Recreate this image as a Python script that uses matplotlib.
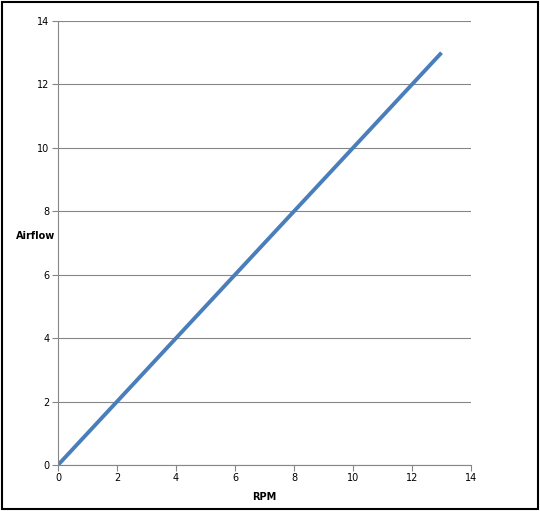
import matplotlib
matplotlib.use("Agg")
import matplotlib.pyplot as plt
from matplotlib.patches import Rectangle

rpm = [0, 1, 2, 3, 4, 5, 6, 7, 8, 9, 10, 11, 12, 13]
airflow = [0, 1, 2, 3, 4, 5, 6, 7, 8, 9, 10, 11, 12, 13]

plt.rcParams["font.family"] = "DejaVu Sans"
fig = plt.figure(figsize=(5.40, 5.11), dpi=100)
ax = fig.add_axes([58 / 540, 46 / 511, 413 / 540, 444 / 511])

ax.plot(rpm, airflow, color="#4A7EBB", lw=2.8, solid_capstyle="butt")
ax.set_xlim(0, 14)
ax.set_ylim(0, 14)
ax.set_xticks(range(0, 15, 2))
ax.set_yticks(range(0, 15, 2))
ax.grid(axis="y", color="#868686", lw=0.8)
ax.set_axisbelow(True)
for s in ("top", "right"):
    ax.spines[s].set_visible(False)
for s in ("left", "bottom"):
    ax.spines[s].set_color("#868686")
ax.tick_params(labelsize=7, length=4, color="#868686", pad=2)

ax.set_xlabel("RPM", fontsize=7, fontweight="bold", labelpad=6)
ax.set_ylabel("Airflow", fontsize=7, fontweight="bold", rotation=0, labelpad=4)
ax.yaxis.set_label_coords(-0.055, 0.505)

fig.patches.append(Rectangle((2 / 540, 2 / 511), 536 / 540, 507 / 511,
                             transform=fig.transFigure, fill=False,
                             edgecolor="black", lw=1.5))
fig.savefig("out.png", dpi=100)
